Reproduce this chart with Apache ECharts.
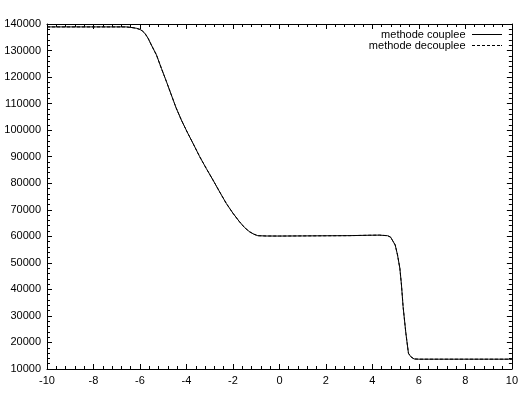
<!DOCTYPE html>
<html>
<head>
<meta charset="utf-8">
<script src="https://cdn.jsdelivr.net/npm/echarts@6/dist/echarts.min.js"></script>
<style>
  html, body { margin: 0; padding: 0; background: #fff; }
  #chart { width: 521px; height: 394px; }
</style>
</head>
<body>
<div id="chart"></div>
<script>
const xValues = [-10, -8, -6.6, -6.44, -6.3, -6.15, -6.0, -5.9, -5.79, -5.65, -5.51, -5.4, -5.29, -5.08, -4.86, -4.65, -4.45, -4.22, -3.97, -3.72, -3.43, -3.15, -2.86, -2.57, -2.29, -2.0, -1.72, -1.5, -1.29, -1.1, -0.93, -0.57, 0, 1, 2, 3, 3.86, 4.3, 4.65, 4.78, 4.86, 4.98, 5.08, 5.18, 5.25, 5.32, 5.44, 5.55, 5.65, 5.79, 6.0, 7, 8, 9, 10];
const coupleeValues = [138900, 138900, 138900, 138760, 138600, 138380, 137950, 137400, 136500, 134610, 132090, 130200, 128320, 123310, 118260, 113250, 108500, 103830, 99300, 95050, 90000, 85600, 81220, 76700, 72440, 68700, 65500, 63300, 61740, 60800, 60230, 60120, 60100, 60150, 60200, 60250, 60400, 60450, 60230, 59700, 59000, 56730, 52960, 47950, 41650, 33480, 23450, 15920, 14640, 13780, 13700, 13700, 13700, 13700, 13700];
const decoupleeValues = [138900, 138900, 138900, 138760, 138600, 138380, 137950, 137400, 136500, 134610, 132090, 130200, 128320, 123310, 118260, 113250, 108500, 103830, 99300, 95050, 90000, 85600, 81220, 76700, 72440, 68700, 65500, 63300, 61740, 60800, 60230, 60120, 60100, 60150, 60200, 60250, 60400, 60450, 60230, 59700, 59000, 56730, 52960, 47950, 41650, 33480, 23450, 15920, 14640, 13780, 13700, 13700, 13700, 13700, 13700];
const seriesNames = ["methode couplee", "methode decouplee"];

const font = "Liberation Sans, Arial, sans-serif";
const chart = echarts.init(document.getElementById("chart"));

// legend samples drawn as plain line paths (solid / dashed)
const solidIcon = "path://M0,0H30V1H0Z";
const dashedIcon = "path://M0,0H3V1H0Z M5,0H8V1H5Z M10,0H13V1H10Z M15,0H18V1H15Z M20,0H23V1H20Z M25,0H28V1H25Z M29,0H30V1H29Z";

function axisBase(extra) {
  return Object.assign({
    type: "value",
    axisLine: { show: true, onZero: false, lineStyle: { color: "#000", width: 1 } },
    axisTick: { show: true, inside: true, length: 5, lineStyle: { color: "#000" } },
    minorTick: { show: true, splitNumber: 5, length: 3, lineStyle: { color: "#000" } },
    splitLine: { show: false }
  }, extra);
}

chart.setOption({
  animation: false,
  backgroundColor: "#fff",
  grid: { left: 47, right: 8, top: 24, bottom: 25 },
  legend: {
    orient: "vertical",
    right: 19,
    top: 29,
    padding: 0,
    align: "right",
    itemWidth: 31,
    itemHeight: 1,
    itemGap: 0,
    textStyle: { fontFamily: font, fontSize: 11, lineHeight: 10, color: "#000", padding: [0, 1, 0, 0] },
    data: [
      { name: seriesNames[0], icon: solidIcon },
      { name: seriesNames[1], icon: dashedIcon }
    ]
  },
  xAxis: [
    axisBase({
      min: -10, max: 10, interval: 2,
      axisLabel: { fontFamily: font, fontSize: 11, color: "#000", margin: 6 }
    }),
    axisBase({
      position: "top", min: -10, max: 10, interval: 2,
      axisLabel: { show: false }
    })
  ],
  yAxis: [
    axisBase({
      min: 10000, max: 140000, interval: 10000,
      axisLabel: { fontFamily: font, fontSize: 11, color: "#000", margin: 6, formatter: (v) => String(v) }
    }),
    axisBase({
      position: "right", min: 10000, max: 140000, interval: 10000,
      axisLabel: { show: false }
    })
  ],
  series: [
    {
      name: seriesNames[0],
      type: "line",
      symbol: "none",
      lineStyle: { color: "#000", width: 1 },
      itemStyle: { color: "#000" },
      data: xValues.map((x, i) => [x, coupleeValues[i]])
    },
    {
      name: seriesNames[1],
      type: "line",
      symbol: "none",
      lineStyle: { color: "#000", width: 1, type: [3, 2] },
      itemStyle: { color: "#000" },
      data: xValues.map((x, i) => [x, decoupleeValues[i]])
    }
  ]
});
</script>
</body>
</html>
